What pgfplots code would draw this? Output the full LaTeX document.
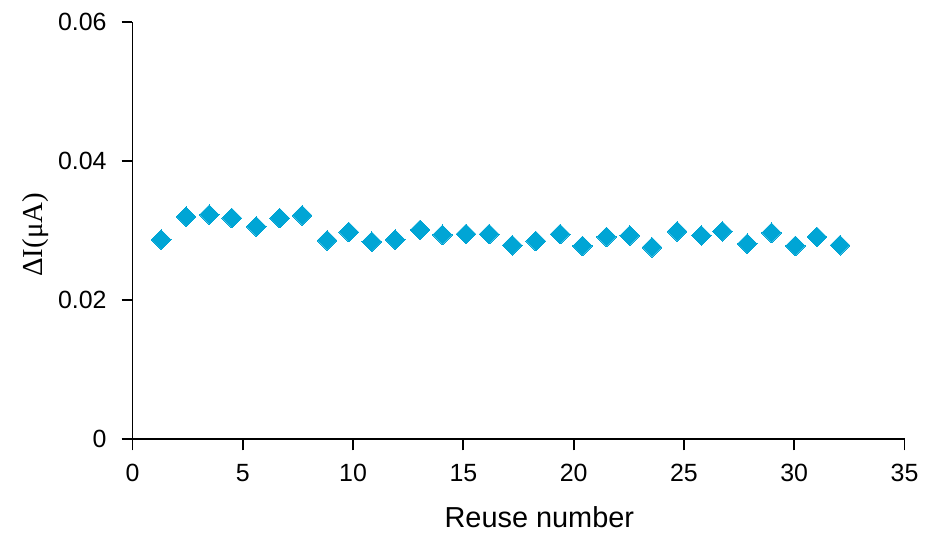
\documentclass[border=0pt]{standalone}
\usepackage{pgfplots}
\pgfplotsset{compat=1.18}
\usepackage{fontspec}
\setmainfont{Liberation Sans}
\newfontfamily\seriffont{Liberation Serif}
\definecolor{mk}{HTML}{00A5D5}
\begin{document}
\begin{tikzpicture}
\path (-66.5pt,-45pt) rectangle (396pt,220.5pt);
\begin{axis}[
  scale only axis,
  width=387.5pt, height=209.5pt,
  xmin=0, xmax=35, ymin=0, ymax=0.06,
  axis lines=left,
  axis line style={line width=0.9pt, -},
  every tick/.style={black, line width=0.9pt},
  tick align=outside,
  major tick length=5.5pt,
  xtick={0,5,...,35},
  ytick={0,0.02,0.04,0.06},
  yticklabels={0,0.02,0.04,0.06},
  scaled y ticks=false,
  /pgf/number format/assume math mode=true,
  tick label style={font=\fontsize{12.5}{14}\selectfont},
  xticklabel style={yshift=-3.5pt},
  yticklabel style={xshift=-4pt},
  xlabel={Reuse number},
  ylabel={\seriffont ΔI(μA)},
  xlabel style={font=\fontsize{14.5}{16}\selectfont, at={(axis description cs:0.527,-0.186)}, anchor=center},
  ylabel style={font=\fontsize{14.5}{16}\selectfont, at={(axis description cs:-0.126,0.49)}, anchor=center},
  clip=false,
]
\addplot[only marks, mark=square*, mark size=3.5pt, mark options={rotate=45, fill=mk, draw=mk, line width=0pt}] coordinates {
(1.30,0.0287) (2.43,0.0320) (3.48,0.0323) (4.50,0.0318) (5.61,0.0306)
(6.67,0.0318) (7.69,0.0322) (8.82,0.0286) (9.80,0.0298) (10.85,0.0284)
(11.91,0.0287) (13.04,0.0301) (14.05,0.0294) (15.12,0.0295) (16.17,0.0295)
(17.22,0.0279) (18.28,0.0285) (19.39,0.0295) (20.40,0.0278) (21.49,0.0291)
(22.54,0.0293) (23.55,0.0276) (24.69,0.0299) (25.79,0.0293) (26.74,0.0299)
(27.87,0.0281) (28.97,0.0297) (30.05,0.0278) (31.03,0.0291) (32.08,0.0279)
};
\end{axis}
\end{tikzpicture}
\end{document}
